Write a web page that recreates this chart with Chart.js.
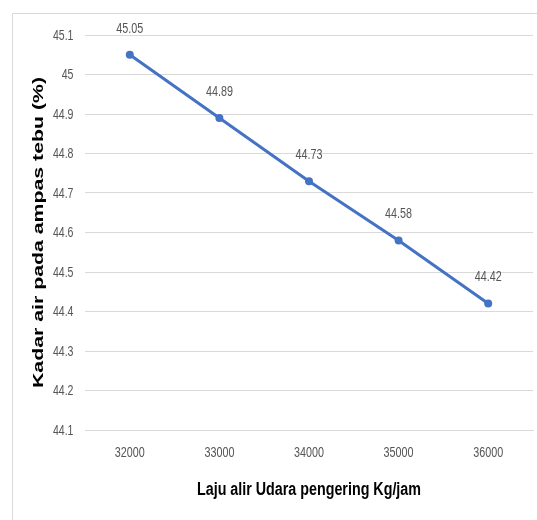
<!DOCTYPE html>
<html>
<head>
<meta charset="utf-8">
<script src="https://cdn.jsdelivr.net/npm/chart.js@4.4.1/dist/chart.umd.min.js"></script>
<style>
  html, body { margin: 0; padding: 0; background: #fff; }
  #wrap { position: relative; width: 537px; height: 520px; overflow: hidden; }
  #frame { position: absolute; left: 12px; top: 13px; width: 700px; height: 700px;
           border-left: 1px solid #d9d9d9; border-top: 1px solid #d9d9d9; }
  canvas { position: absolute; left: 0; top: 0; }
</style>
</head>
<body>
<div id="wrap">
  <div id="frame"></div>
  <canvas id="c" width="537" height="520"></canvas>
</div>
<script>
// Air flow rate of the drying air (kg/h) and moisture content of the bagasse (%)
const categories = ['32000', '33000', '34000', '35000', '36000'];
const moisture = [45.05, 44.89, 44.73, 44.58, 44.42];
const yTicks = [44.1, 44.2, 44.3, 44.4, 44.5, 44.6, 44.7, 44.8, 44.9, 45.0, 45.1];
const xTitle = 'Laju alir Udara pengering Kg/jam';
const yTitle = 'Kadar air pada ampas tebu (%)';

const SANS = '"Liberation Sans", Arial, sans-serif';
const TEXT_GREY = '#555555';

// Draws text squeezed horizontally, giving a tall narrow face
function narrowText(ctx, text, x, y, sx, align) {
  ctx.save();
  ctx.translate(x, y);
  ctx.scale(sx, 1);
  ctx.textAlign = align;
  ctx.fillText(text, 0, 0);
  ctx.restore();
}

// Tick labels, value labels above each point, and the two axis titles
const annotate = {
  id: 'annotate',
  afterDatasetsDraw(chart) {
    const ctx = chart.ctx;
    const meta = chart.getDatasetMeta(0);
    ctx.save();
    ctx.font = '14px ' + SANS;
    ctx.fillStyle = TEXT_GREY;
    ctx.textBaseline = 'middle';
    meta.data.forEach((pt, i) => {
      narrowText(ctx, moisture[i].toFixed(2), pt.x, pt.y - 26, 0.77, 'center');
    });
    ctx.restore();
  },
  afterDraw(chart) {
    const ctx = chart.ctx;
    const a = chart.chartArea;
    const xs = chart.scales.x, ys = chart.scales.y;

    // tick labels
    ctx.save();
    ctx.fillStyle = TEXT_GREY;
    ctx.textBaseline = 'middle';
    ctx.font = '14.5px ' + SANS;
    yTicks.forEach(v => {
      narrowText(ctx, String(Math.round(v * 10) / 10), 73.5, ys.getPixelForValue(v) + 0.5, 0.73, 'right');
    });
    ctx.font = '14px ' + SANS;
    categories.forEach((c, i) => {
      narrowText(ctx, c, xs.getPixelForValue(i), 453, 0.77, 'center');
    });
    ctx.restore();

    // vertical axis title, stretched along its length
    ctx.save();
    ctx.fillStyle = '#000';
    ctx.font = 'bold 14px ' + SANS;
    ctx.textAlign = 'center';
    ctx.textBaseline = 'middle';
    ctx.translate(39.5, (a.top + a.bottom) / 2);
    ctx.rotate(-Math.PI / 2);
    const wy = ctx.measureText(yTitle).width;
    ctx.scale(311 / wy, 1);
    ctx.fillText(yTitle, 0, 0);
    ctx.restore();

    // horizontal axis title
    ctx.save();
    ctx.fillStyle = '#000';
    ctx.font = 'bold 18px ' + SANS;
    ctx.textAlign = 'center';
    ctx.textBaseline = 'alphabetic';
    ctx.translate((a.left + a.right) / 2, 495);
    const wx = ctx.measureText(xTitle).width;
    ctx.scale(224 / wx, 1);
    ctx.fillText(xTitle, 0, 0);
    ctx.restore();
  }
};

new Chart(document.getElementById('c'), {
  type: 'line',
  data: {
    labels: categories,
    datasets: [{
      data: moisture,
      borderColor: '#4472C4',
      backgroundColor: '#4472C4',
      borderWidth: 3,
      pointRadius: 4,
      pointHoverRadius: 4,
      pointBorderWidth: 0,
      tension: 0,
      fill: false
    }]
  },
  options: {
    responsive: false,
    devicePixelRatio: 1,
    animation: false,
    events: [],
    layout: { padding: { top: 35, right: 2, left: 0, bottom: 0 } },
    plugins: {
      legend: { display: false },
      tooltip: { enabled: false },
      title: { display: false }
    },
    scales: {
      x: {
        type: 'category',
        offset: true,
        grid: { display: false, drawTicks: false },
        border: { display: true, color: '#d9d9d9', width: 1 },
        ticks: { display: false },
        afterFit(scale) { scale.height = 90; }
      },
      y: {
        min: 44.1,
        max: 45.1,
        grid: { color: '#d9d9d9', lineWidth: 1, drawTicks: false },
        border: { display: false },
        afterBuildTicks(scale) { scale.ticks = yTicks.map(v => ({ value: v })); },
        ticks: { display: false },
        afterFit(scale) { scale.width = 85; }
      }
    }
  },
  plugins: [annotate]
});
</script>
</body>
</html>
